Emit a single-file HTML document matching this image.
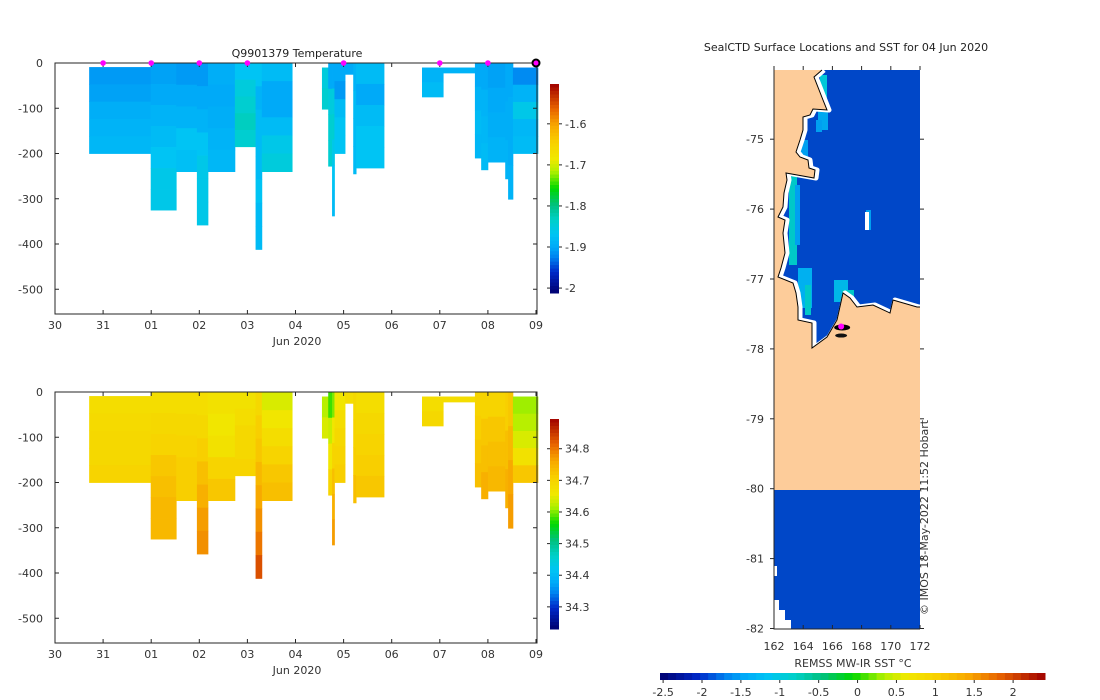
<!DOCTYPE html>
<html><head><meta charset="utf-8"><style>
body{margin:0;background:#fff;}
svg{display:block;font-family:"DejaVu Sans","Liberation Sans",sans-serif;}
text{fill:#333;font-size:11px;}
</style></head><body>
<svg id="fig" width="1100" height="700" viewBox="0 0 1100 700">
<text x="297" y="57" text-anchor="middle" font-size="12" style="fill:#222">Q9901379  Temperature</text>
<text x="846" y="51" text-anchor="middle" font-size="11" style="fill:#222">SealCTD Surface Locations and SST for 04 Jun 2020</text>
<g id="temp"></g>
<g id="sal"></g>
<g id="map"></g>
</svg>
<script>
// ---- data ----
const profStart=[0.71,1.99,2.52,2.95,3.18,3.74,4.17,4.30,5.55,5.68,5.76,5.81,6.03,6.20,6.26,7.63,8.07,8.73,8.86,9.00,9.36,9.42,9.52];
const profEnd  =[1.99,2.52,2.95,3.18,3.74,4.17,4.30,4.93,5.68,5.76,5.81,6.03,6.20,6.26,6.84,8.07,8.73,8.86,9.00,9.36,9.42,9.52,10.04];
const profTop  =[9,0,0,0,0,0,0,0,10,0,0,0,0,0,0,10,10,0,0,0,0,0,10];
const profDepth=[200,325,240,358,240,185,412,240,102,228,338,200,25,245,232,75,22,210,236,219,256,301,200];
const profTemp=[
[-1.91,-1.905,-1.895,-1.89,-1.885],[-1.905,-1.9,-1.89,-1.88,-1.87,-1.86,-1.86],[-1.91,-1.9,-1.89,-1.87,-1.875],
[-1.91,-1.9,-1.89,-1.87,-1.86,-1.86,-1.86],[-1.895,-1.9,-1.895,-1.89,-1.885],[-1.87,-1.85,-1.84,-1.83,-1.84],
[-1.87,-1.89,-1.88,-1.88,-1.88,-1.87,-1.88,-1.88],[-1.88,-1.9,-1.9,-1.88,-1.86,-1.85],[-1.85,-1.84],
[-1.9,-1.85,-1.84,-1.84],[-1.9,-1.85,-1.84,-1.86,-1.87,-1.88],[-1.9,-1.91,-1.88,-1.87,-1.87],[-1.9],
[-1.89,-1.88,-1.88,-1.88],[-1.88,-1.9,-1.88,-1.87,-1.87],[-1.89,-1.88],[-1.89],[-1.9,-1.89,-1.88,-1.885],
[-1.9,-1.89,-1.885,-1.88],[-1.905,-1.9,-1.895,-1.89],[-1.9,-1.895,-1.89],[-1.9,-1.895,-1.895,-1.89],[-1.92,-1.89,-1.86,-1.885,-1.88]];
const profSal=[
[34.68,34.685,34.69,34.69,34.7],[34.68,34.69,34.7,34.72,34.73,34.74,34.74],[34.68,34.69,34.7,34.71,34.71],
[34.68,34.69,34.71,34.73,34.75,34.77,34.78],[34.67,34.66,34.67,34.7,34.72],[34.67,34.68,34.69,34.69,34.7],
[34.69,34.71,34.72,34.74,34.76,34.78,34.8,34.83],[34.64,34.66,34.68,34.7,34.72,34.73],[34.62,34.64],
[34.58,34.63,34.66,34.7],[34.6,34.66,34.7,34.73,34.75,34.77],[34.66,34.68,34.69,34.7,34.71],[34.68],
[34.69,34.7,34.71,34.73],[34.68,34.69,34.7,34.71,34.72],[34.68,34.69],[34.68],[34.7,34.71,34.72,34.73],
[34.7,34.72,34.73,34.75],[34.7,34.72,34.73,34.74],[34.71,34.73,34.75],[34.72,34.74,34.76,34.77],[34.61,34.62,34.64,34.67,34.72]];
const markerDays=[1,2,3,4,6,8,9];
const currentDay=[10];
const dayLabels=["30","31","01","02","03","04","05","06","07","08","09"];
const depthTicks=[0,-100,-200,-300,-400,-500];
const tempTicks=[-1.6,-1.7,-1.8,-1.9,-2];
const salTicks=[34.8,34.7,34.6,34.5,34.4,34.3];
const sstTicks=[-2.5,-2,-1.5,-1,-0.5,0,0.5,1,1.5,2];
const lonTicks=[162,164,166,168,170,172];
const latTicks=[-75,-76,-77,-78,-79,-80,-81,-82];
const sampleLonLat=[[166.6,-77.68]];

const NS='http://www.w3.org/2000/svg';
function mk(p,tag,at){const e=document.createElementNS(NS,tag);for(const k in at)e.setAttribute(k,at[k]);p.appendChild(e);return e;}
const stops=[[0,[0,0,112]],[0.1,[0,40,200]],[0.17,[0,130,240]],[0.22,[0,170,248]],[0.28,[0,196,244]],[0.35,[0,208,200]],[0.42,[0,192,128]],[0.5,[0,216,0]],[0.58,[176,240,0]],[0.64,[240,232,0]],[0.72,[248,208,0]],[0.8,[248,168,0]],[0.88,[232,100,0]],[1,[160,0,0]]];
function cmap(t){t=Math.max(0,Math.min(1,t));for(let i=1;i<stops.length;i++){if(t<=stops[i][0]){const a=stops[i-1],b=stops[i];const f=(t-a[0])/(b[0]-a[0]);const c=a[1].map((v,j)=>Math.round(v+(b[1][j]-v)*f));return `rgb(${c})`;}}return 'rgb(160,0,0)';}

function section(g,y0,vals,vmin,vmax,cbTop,cbBot,ticks,tickFmt,markers){
  const x=d=>55+d*48.1, y=z=>y0+z*0.4525, ybot=y0+251;
  for(let i=0;i<profStart.length;i++){
    const n=vals[i].length, h=(profDepth[i]-profTop[i])/n;
    for(let k=0;k<n;k++){
      const r=mk(g,'rect',{x:x(profStart[i]),y:y(profTop[i]+k*h),width:x(profEnd[i])-x(profStart[i])+0.4,height:h*0.4525+0.4,fill:cmap((vals[i][k]-vmin)/(vmax-vmin))});
      
      
    }
  }
  const box=mk(g,'rect',{x:55,y:y0,width:482,height:ybot-y0,fill:'none',stroke:'#262626','stroke-width':1});
  
  dayLabels.forEach((l,i)=>{const xx=x(i);
    mk(g,'line',{x1:xx,x2:xx,y1:ybot,y2:ybot-4,stroke:'#262626'});mk(g,'line',{x1:xx,x2:xx,y1:y0,y2:y0+4,stroke:'#262626'});
    const t=mk(g,'text',{x:xx,y:ybot+15,'text-anchor':'middle'});t.textContent=l;
    });
  const xt=mk(g,'text',{x:297,y:ybot+31,'text-anchor':'middle'});xt.textContent='Jun 2020';
  
  depthTicks.forEach(v=>{const yy=y(-v);
    mk(g,'line',{x1:55,x2:59,y1:yy,y2:yy,stroke:'#262626'});mk(g,'line',{x1:537,x2:533,y1:yy,y2:yy,stroke:'#262626'});
    const t=mk(g,'text',{x:43,y:yy+4,'text-anchor':'end'});t.textContent=v;
    });
  const N=60;for(let k=0;k<N;k++){const r=mk(g,'rect',{x:550,y:cbTop+(cbBot-cbTop)*k/N,width:9,height:(cbBot-cbTop)/N+0.5,fill:cmap(1-(k+0.5)/N)});
    }
  ticks.forEach(v=>{const yy=cbTop+(vmax-v)/(vmax-vmin)*(cbBot-cbTop);
    mk(g,'line',{x1:559,x2:562,y1:yy,y2:yy,stroke:'#262626'});mk(g,'line',{x1:547,x2:550,y1:yy,y2:yy,stroke:'#262626'});
    const t=mk(g,'text',{x:565,y:yy+4});t.textContent=tickFmt(v);
    });
  if(markers){
    markerDays.forEach(d=>{const c=mk(g,'circle',{cx:x(d),cy:y0,r:2.8,fill:'#ff00ff'});
      });
    currentDay.forEach(d=>{const c=mk(g,'circle',{cx:x(d),cy:y0,r:3.5,fill:'#ff00ff',stroke:'#000','stroke-width':2});
      });
  }
}
section(document.getElementById('temp'),63,profTemp,-2.012,-1.503,84,293,tempTicks,v=>String(v),true);
section(document.getElementById('sal'),392,profSal,34.23,34.894,419,629,salTicks,v=>v.toFixed(1),false);

// ---- map ----
const m=document.getElementById('map');
const lx=lon=>774+(lon-162)*14.6, ly=lat=>70+(-74.01-lat)*69.9;
let r=mk(m,'rect',{x:774,y:70,width:146,height:420,fill:'#0047c8'});
r=mk(m,'rect',{x:774,y:490,width:146,height:139,fill:'#0047c8'});
[[820,75,7,28,'#00c8d8'],[818,105,10,25,'#00a8f0'],[789,175,8,90,'#00c8c8'],[795,185,5,60,'#00a0f0'],[798,268,14,40,'#00b0f0'],[805,285,6,30,'#00c8c8'],[834,280,14,22,'#00b8e8'],[842,290,12,15,'#00c8c8'],[866,210,5,20,'#00a0f0'],[816,120,6,12,'#00a0f0'],[800,140,8,20,'#00a0f0']].forEach(a=>{
  const q=mk(m,'rect',{x:a[0],y:a[1],width:a[2],height:a[3],fill:a[4]});});
mk(m,'rect',{x:865,y:212,width:4,height:18,fill:'#fff'});
const coast=[[822,70],[814,77],[823,100],[827,110],[813,109],[810,115],[803,117],[803,130],[800,140],[796,152],[800,157],[808,160],[809,168],[815,170],[814,178],[786,173],[787,180],[784,193],[783,207],[778,217],[785,220],[783,233],[785,253],[781,268],[778,277],[793,283],[796,293],[798,307],[798,320],[812,323],[812,348],[827,337],[837,320],[843,293],[850,298],[857,307],[873,305],[890,313],[893,300],[917,307],[920,307]];
const pts=coast.map(p=>p.join(',')).join(' ');
mk(m,'polyline',{points:pts,fill:'none',stroke:'#fff','stroke-width':5,'stroke-linejoin':'round',transform:'translate(2,0)'});
const land=mk(m,'polygon',{points:pts+' 920,490 774,490 774,70',fill:'#fdcc9a'});
const cl=mk(m,'polyline',{points:pts,fill:'none',stroke:'#000','stroke-width':1});
mk(m,'polygon',{points:'774,600 779,600 779,610 785,610 785,620 791,620 791,629 774,629',fill:'#fff'});
mk(m,'rect',{x:774,y:566,width:3,height:10,fill:'#fff'});
sampleLonLat.forEach(p=>{const cx=lx(p[0]),cy=ly(p[1]);
  mk(m,'ellipse',{cx:cx+1,cy:cy+1,rx:8,ry:3,fill:'#000'});mk(m,'ellipse',{cx:cx,cy:cy+9,rx:6,ry:2,fill:'#111'});
  const c=mk(m,'circle',{cx:cx,cy:cy,r:3,fill:'#ff00ff'});});
const ax=mk(m,'polyline',{points:'774,70 774,629 920,629',fill:'none',stroke:'#262626'});
lonTicks.forEach(v=>{const xx=lx(v);mk(m,'line',{x1:xx,x2:xx,y1:629,y2:625,stroke:'#262626'});mk(m,'line',{x1:xx,x2:xx,y1:70,y2:66,stroke:'#262626'});
  const t=mk(m,'text',{x:xx,y:650,'text-anchor':'middle'});t.textContent=v;});
latTicks.forEach(v=>{const yy=ly(v);mk(m,'line',{x1:774,x2:770,y1:yy,y2:yy,stroke:'#262626'});mk(m,'line',{x1:920,x2:924,y1:yy,y2:yy,stroke:'#262626'});
  const t=mk(m,'text',{x:764,y:yy+4,'text-anchor':'end'});t.textContent=v;});
const cr=mk(m,'text',{x:928,y:615,transform:'rotate(-90 928 615)','font-size':'10'});cr.textContent='© IMOS 18-May-2022 11:52 Hobart';

const smin=-2.54,smax=2.41,cx0=660,cx1=1045,NB=48;
for(let k=0;k<NB;k++){const q=mk(m,'rect',{x:cx0+(cx1-cx0)*k/NB,y:673,width:(cx1-cx0)/NB+0.5,height:7,fill:cmap((k+0.5)/NB)});
  }
sstTicks.forEach(v=>{const xx=cx0+(v-smin)/(smax-smin)*(cx1-cx0);
  mk(m,'line',{x1:xx,x2:xx,y1:680,y2:683,stroke:'#262626'});
  const t=mk(m,'text',{x:xx,y:696,'text-anchor':'middle'});t.textContent=v;});
const ct=mk(m,'text',{x:853,y:667,'text-anchor':'middle'});ct.textContent='REMSS MW-IR SST °C';

</script>
</body></html>
